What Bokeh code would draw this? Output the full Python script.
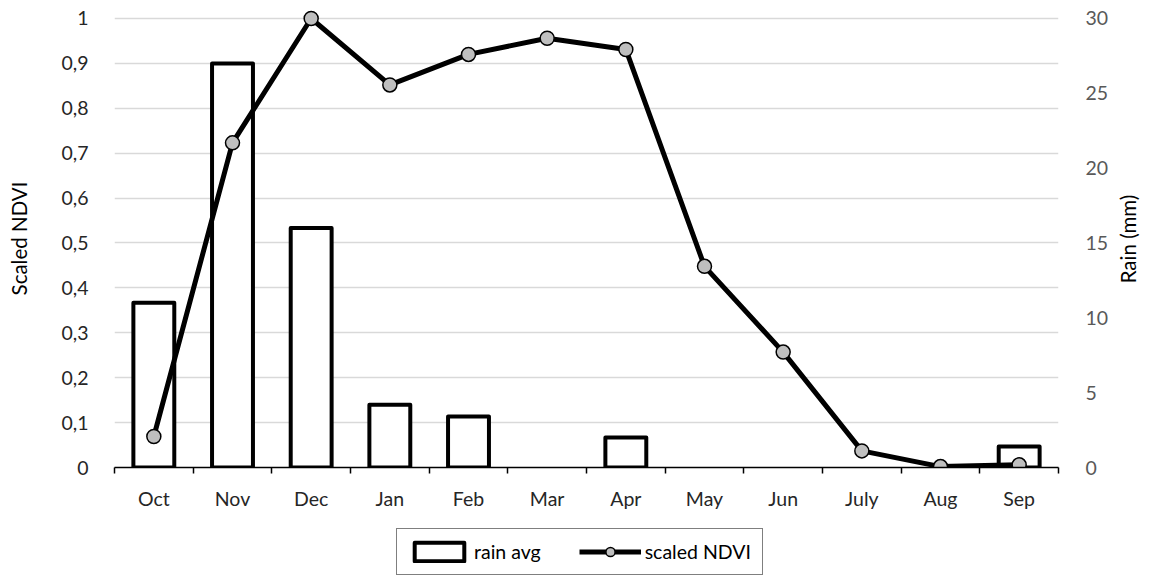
from bokeh.plotting import figure
from bokeh.layouts import column, row
from bokeh.models import (Range1d, LinearAxis, FixedTicker, CustomJSTickFormatter,
                          Legend, LegendItem, ColumnDataSource, Title)
from bokeh.embed import file_html
from bokeh.resources import INLINE

months = ["Oct", "Nov", "Dec", "Jan", "Feb", "Mar", "Apr", "May", "Jun", "July", "Aug", "Sep"]
rain_avg = [11.0, 27.0, 16.0, 4.2, 3.4, 0.0, 2.0, 0.0, 0.0, 0.0, 0.0, 1.4]
scaled_ndvi = [0.069, 0.723, 1.0, 0.852, 0.92, 0.956, 0.931, 0.448, 0.257, 0.037, 0.002, 0.006]
ndvi_ticks = [0, 0.1, 0.2, 0.3, 0.4, 0.5, 0.6, 0.7, 0.8, 0.9, 1.0]
rain_ticks = [0, 5, 10, 15, 20, 25, 30]

FONT = "Lato"
FS = "19.5px"
AFS = "20.5px"
HEAD = 0.02  # small headroom so top markers are not clipped

centers = [i + 0.5 for i in range(len(months))]
bounds = [float(i) for i in range(len(months) + 1)]

bar_src = ColumnDataSource(dict(
    x=[c for c, r in zip(centers, rain_avg) if r > 0],
    top=[r for r in rain_avg if r > 0],
))
line_src = ColumnDataSource(dict(x=centers, y=scaled_ndvi))

RIGHT_W = 38
MAIN_W = 1151 - RIGHT_W
MAIN_H = 512
p = figure(width=MAIN_W, height=MAIN_H, output_backend="svg", toolbar_location=None,
           x_range=Range1d(0, len(months)), y_range=Range1d(0, 1 + HEAD),
           min_border_left=114, min_border_right=MAIN_W - 1058, min_border_top=9,
           min_border_bottom=44)
p.outline_line_color = None
p.background_fill_color = "white"
p.border_fill_color = "white"
p.extra_y_ranges = {"rain": Range1d(0, 30 * (1 + HEAD))}

# grid
p.xgrid.grid_line_color = None
p.ygrid.ticker = FixedTicker(ticks=ndvi_ticks)
p.ygrid.grid_line_color = "#d9d9d9"
p.ygrid.grid_line_width = 1.5

# left axis
yl = p.yaxis[0]
yl.ticker = FixedTicker(ticks=ndvi_ticks)
yl.formatter = CustomJSTickFormatter(code="return (Math.round(tick*10)/10).toString().replace('.', ',');")
yl.axis_line_color = None
yl.major_tick_line_color = None
yl.minor_tick_line_color = None
yl.major_label_text_font = FONT
yl.major_label_text_font_size = FS
yl.major_label_text_color = "#262626"
yl.major_label_standoff = 20
yl.axis_label = "Scaled NDVI"
yl.axis_label_text_font = FONT
yl.axis_label_text_font_size = AFS
yl.axis_label_text_font_style = "normal"
yl.axis_label_text_color = "#000000"
yl.axis_label_standoff = 27

# right axis (ticks only; its title is drawn in the narrow strip to the right)
yr = LinearAxis(y_range_name="rain", ticker=FixedTicker(ticks=rain_ticks))
yr.axis_line_color = None
yr.major_tick_line_color = None
yr.minor_tick_line_color = None
yr.major_label_text_font = FONT
yr.major_label_text_font_size = FS
yr.major_label_text_color = "#595959"
yr.major_label_standoff = 21
p.add_layout(yr, "right")

# bottom axis
xa = p.xaxis[0]
xa.ticker = FixedTicker(ticks=centers, minor_ticks=bounds)
xa.formatter = CustomJSTickFormatter(args=dict(months=months),
                                     code="return months[Math.floor(tick)];")
xa.major_tick_line_color = None
xa.major_tick_out = 0
xa.minor_tick_line_color = "black"
xa.minor_tick_line_width = 1.5
xa.minor_tick_in = 0
xa.minor_tick_out = 6
xa.axis_line_color = "black"
xa.axis_line_width = 1.5
xa.major_label_text_font = FONT
xa.major_label_text_font_size = FS
xa.major_label_text_color = "#262626"
xa.major_label_standoff = 13

bars = p.vbar(x="x", top="top", bottom=0, width=0.52, source=bar_src, y_range_name="rain",
              fill_color="white", line_color="black", line_width=4, line_join="round")
ln = p.line(x="x", y="y", source=line_src, line_color="black", line_width=5, line_join="round")
pts = p.scatter(x="x", y="y", source=line_src, size=14, marker="circle",
                fill_color="#bfbfbf", line_color="black", line_width=1.5)

# legend strip below the chart (hidden proxies styled like the series)
LEG_H = 577 - MAIN_H
q = figure(width=MAIN_W, height=LEG_H, output_backend="svg", toolbar_location=None,
           x_range=Range1d(0, 1), y_range=Range1d(0, 1),
           x_axis_location=None, y_axis_location=None, min_border=0)
q.outline_line_color = None
q.grid.visible = False
q.background_fill_color = "white"
q.border_fill_color = "white"
lb = q.vbar(x="x", top="top", width=0.5, source=bar_src, visible=False,
            fill_color="white", line_color="black", line_width=4, line_join="round")
ll = q.line(x="x", y="y", source=line_src, line_color="black", line_width=5, visible=False)
lp = q.scatter(x="x", y="y", source=line_src, size=14, marker="circle", visible=False,
               fill_color="#bfbfbf", line_color="black", line_width=1.5)

legend = Legend(items=[LegendItem(label="rain avg", renderers=[lb]),
                       LegendItem(label="scaled NDVI", renderers=[ll, lp])],
                orientation="horizontal", location=(282, 2),
                border_line_color="black", border_line_width=1,
                background_fill_color="white", background_fill_alpha=1,
                label_text_font=FONT, label_text_font_size=FS, label_text_color="#000000",
                glyph_width=62, glyph_height=23, label_standoff=4, spacing=38, padding=11,
                margin=0)
q.add_layout(legend, "center")

# narrow strip on the right carrying the rain axis title (reads bottom-to-top)
r = figure(width=RIGHT_W, height=577, output_backend="svg", toolbar_location=None,
           x_range=Range1d(0, 1), y_range=Range1d(0, 1),
           x_axis_location=None, y_axis_location=None,
           min_border_left=0, min_border_right=0, min_border_top=9, min_border_bottom=109)
r.outline_line_color = None
r.grid.visible = False
r.background_fill_color = "white"
r.border_fill_color = "white"
r.add_layout(Title(text="Rain (mm)", align="center", text_font=FONT, text_font_size=AFS,
                   text_font_style="normal", text_color="#000000", standoff=0, offset=0),
             "left")

layout = row(column(p, q, spacing=0), r, spacing=0)
open("out.html", "w").write(file_html(layout, INLINE))
